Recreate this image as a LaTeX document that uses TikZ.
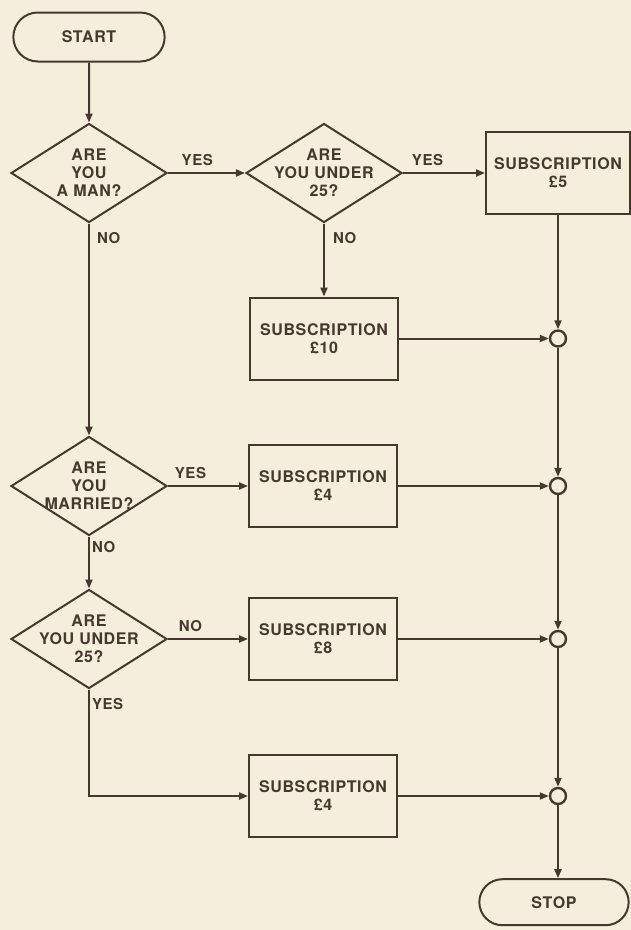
\documentclass[tikz,border=0pt]{standalone}
\usepackage{fontspec}
\setmainfont{TeX Gyre Heros}[LetterSpace=4]
\usetikzlibrary{positioning,arrows.meta,shapes.geometric,shapes.misc}
\definecolor{paper}{RGB}{246,238,221}
\definecolor{ink}{RGB}{70,56,46}
\tikzset{
  flow/.style={draw=ink,line width=2pt,text=ink,font=\bfseries\fontsize{16}{18}\selectfont,align=center},
  terminal/.style={flow,rounded rectangle,minimum width=158pt,minimum height=49pt},
  question/.style={flow,diamond,inner sep=-20pt,minimum width=156pt,minimum height=99pt},
  subbox/.style={flow,rectangle,minimum width=148pt,minimum height=82pt},
  joint/.style={draw=ink,line width=2.4pt,circle,minimum size=16pt,inner sep=0pt},
  answer/.style={text=ink,font=\bfseries\fontsize{15}{17}\selectfont,inner sep=2pt}
}
\begin{document}
\begin{tikzpicture}[>={Triangle[length=9pt,width=7pt]},color=ink,line width=2pt]
\fill[paper] (0,0) rectangle (631pt,-930pt);
\useasboundingbox (0,0) rectangle (631pt,-930pt);
\node[terminal] (start) at (89pt,-37pt) {START};
\node[question] (q1) [below=60pt of start] {ARE\\YOU\\A MAN?};
\node[question] (q2) [right=77pt of q1] {ARE\\YOU UNDER\\25?};
\node[subbox,minimum width=144pt] (s5) [right=82pt of q2] {SUBSCRIPTION\\£5};
\node[subbox] (s10) [below=73pt of q2] {SUBSCRIPTION\\£10};
\node[question] (q3) [below=212pt of q1] {ARE\\YOU\\MARRIED?};
\node[subbox] (s4) [right=80pt of q3] {SUBSCRIPTION\\£4};
\node[question] (q4) [below=52pt of q3] {ARE\\YOU UNDER\\25?};
\node[subbox] (s8) [right=80pt of q4] {SUBSCRIPTION\\£8};
\node[subbox] (s4b) [below=73pt of s8] {SUBSCRIPTION\\£4};
\node[joint] (j1) at (s5 |- s10) {};
\node[joint] (j2) at (s5 |- s4) {};
\node[joint] (j3) at (s5 |- s8) {};
\node[joint] (j4) at (s5 |- s4b) {};
\node[terminal,minimum width=156pt,minimum height=46pt] (stop) [below=73pt of j4,xshift=-4pt] {STOP};
\draw[->] (start) -- (q1);
\draw[->] (q1) -- node[answer,above=4pt,pos=0.38]{YES} (q2);
\draw[->] (q2) -- node[answer,above=4pt,pos=0.3]{YES} (s5);
\draw[->] (q2) -- node[answer,right=6pt,pos=0.2]{NO} (s10);
\draw[->] (q1) -- node[answer,right=5pt,pos=0.07]{NO} (q3);
\draw[->] (q3) -- node[answer,above=4pt,pos=0.28]{YES} (s4);
\draw[->] (q3) -- node[answer,right=0pt,pos=0.2]{NO} (q4);
\draw[->] (q4) -- node[answer,above=4pt,pos=0.28]{NO} (s8);
\draw[->] (q4) |- node[answer,right=0pt,pos=0.07]{YES} (s4b);
\foreach \from/\to in {s5/j1,s10/j1,j1/j2,s4/j2,j2/j3,s8/j3,j3/j4,s4b/j4}
  \draw[->] (\from) -- (\to);
\draw[->] (j4) -- (j4 |- stop.north);
\end{tikzpicture}
\end{document}
